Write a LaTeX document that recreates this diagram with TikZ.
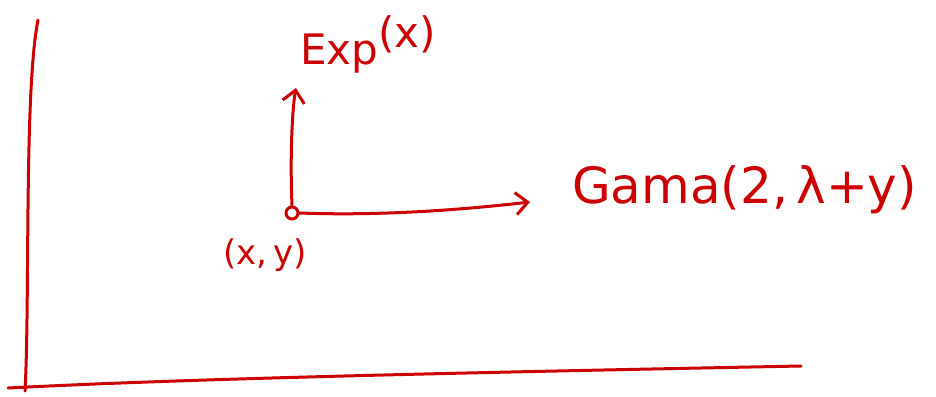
\documentclass[tikz,border=0pt]{standalone}
\usepackage{fontspec}
\setmainfont{DejaVu Sans}
\usetikzlibrary{arrows.meta}
\definecolor{ink}{RGB}{204,0,0}
\tikzset{
  pen/.style={draw=ink, line width=3pt, line cap=round, line join=round},
  arrowpen/.style={pen, -{Straight Barb[length=12pt,width=22pt,line width=3pt]}},
  lbl/.style={text=ink, inner sep=0pt, font=\fontsize{39}{41}\selectfont},
}
\begin{document}
\begin{tikzpicture}[x=1pt,y=-1pt]
\useasboundingbox (0,0) rectangle (936,396);
% axes
\coordinate (vtop) at (38,20);
\coordinate (vbot) at (25,391);
\coordinate (hl) at (8,388);
\coordinate (hr) at (801,366);
\draw[pen] (vtop) .. controls (24,90) and (30,300) .. (vbot);
\draw[pen] (hl) .. controls (200,378) and (500,372) .. (hr);
% origin
\node[circle, draw=ink, line width=3pt, minimum size=12pt, inner sep=0pt] (o) at (292,213) {};
\coordinate (uptip) at (296,88);
\coordinate (rtip) at (530,202);
\draw[arrowpen] (o.north) .. controls (290,160) and (292,110) .. (uptip);
\draw[arrowpen] (o.east) .. controls (380,216) and (460,210) .. (rtip);
% labels
\node[lbl, anchor=base west, font=\fontsize{42}{44}\selectfont] (exp) at (300,64) {Exp\raisebox{0.7ex}{(x)}};
\node[lbl, anchor=base west, font=\fontsize{50}{52}\selectfont] (gama) at (572,203) {Gama(2,\,λ+y)};
\node[lbl, anchor=center, font=\fontsize{34}{36}\selectfont] (xy) at (265,255) {(x,\,y)};
\end{tikzpicture}
\end{document}
